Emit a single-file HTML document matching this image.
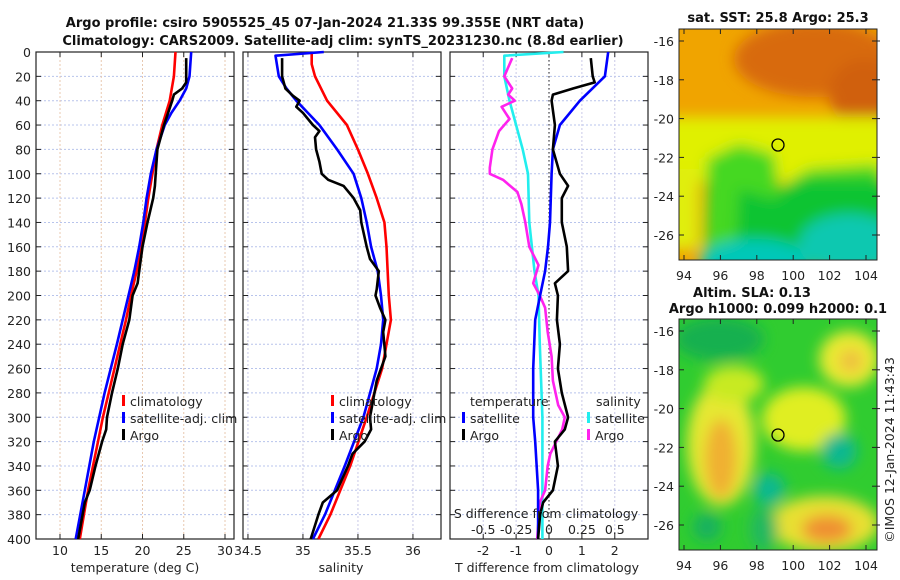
<!DOCTYPE html>
<html><head><meta charset="utf-8">
<style>
html,body{margin:0;padding:0;background:#fff;}
svg{display:block;font-family:"DejaVu Sans","Liberation Sans",sans-serif;}
text{fill:#222;}
.tk{font-size:12.5px;}
.tt{font-size:13px;font-weight:bold;fill:#111;}
</style></head>
<body>
<svg id="fig" width="900" height="580" viewBox="0 0 900 580">
<defs>
<filter id="bl" x="-10%" y="-10%" width="120%" height="120%"><feGaussianBlur stdDeviation="7"/></filter>
<clipPath id="c1"><rect x="679" y="29" width="198" height="231"/></clipPath>
<clipPath id="c2"><rect x="679" y="319" width="198" height="231"/></clipPath>
</defs>
<text class="tt" x="325" y="27" text-anchor="middle">Argo profile: csiro 5905525_45 07-Jan-2024 21.33S 99.355E (NRT data)</text>
<text class="tt" x="343" y="45" text-anchor="middle">Climatology: CARS2009. Satellite-adj clim: synTS_20231230.nc (8.8d earlier)</text>

<g>
<text class="tt" x="778" y="22" text-anchor="middle">sat. SST: 25.8 Argo: 25.3</text>
<g clip-path="url(#c1)">
<rect x="679" y="29" width="198" height="231" fill="#f0a400"/>
<g filter="url(#bl)" transform="translate(679,29)">
<ellipse cx="135" cy="30" rx="80" ry="38" fill="#d86a10"/>
<ellipse cx="185" cy="65" rx="35" ry="35" fill="#d06010"/>
<rect x="-20" y="88" width="240" height="65" fill="#e0f000"/>
<rect x="-20" y="140" width="40" height="80" fill="#e0ee10"/>
<polygon points="25,240 28,130 60,115 95,125 100,160 130,140 200,135 220,240" fill="#44d820"/>
<polygon points="55,240 60,160 95,170 120,150 210,150 220,240" fill="#10c430"/>
<ellipse cx="75" cy="232" rx="55" ry="22" fill="#00c8b8"/>
<ellipse cx="170" cy="215" rx="50" ry="30" fill="#08c8b0"/>
</g>
</g>
<rect x="679" y="29" width="198" height="231" fill="none" stroke="#222" stroke-width="1"/>
<circle cx="778" cy="145" r="6" fill="none" stroke="#000" stroke-width="1.3"/>
<g id="m1ax"></g>
</g>

<g>
<text class="tt" x="752" y="297" text-anchor="middle">Altim. SLA: 0.13</text>
<text class="tt" x="778" y="313" text-anchor="middle">Argo h1000: 0.099 h2000: 0.1</text>
<g clip-path="url(#c2)">
<rect x="679" y="319" width="198" height="231" fill="#30cc30"/>
<g filter="url(#bl)" transform="translate(679,319)">
<ellipse cx="40" cy="20" rx="45" ry="22" fill="#18b050"/>
<ellipse cx="42" cy="125" rx="34" ry="62" fill="#e6e830"/>
<ellipse cx="42" cy="140" rx="16" ry="40" fill="#f0b030"/>
<ellipse cx="125" cy="100" rx="42" ry="32" fill="#e0ee20"/>
<ellipse cx="55" cy="65" rx="30" ry="18" fill="#c8ea20"/>
<ellipse cx="170" cy="40" rx="30" ry="28" fill="#eaea30"/>
<ellipse cx="172" cy="42" rx="12" ry="12" fill="#f0c040"/>
<ellipse cx="145" cy="205" rx="55" ry="28" fill="#e8e030"/>
<ellipse cx="148" cy="210" rx="25" ry="14" fill="#f09030"/>
<ellipse cx="90" cy="170" rx="16" ry="16" fill="#10b890"/>
<ellipse cx="160" cy="132" rx="18" ry="18" fill="#10b890"/>
<ellipse cx="28" cy="208" rx="14" ry="14" fill="#18b060"/>
<ellipse cx="85" cy="210" rx="14" ry="22" fill="#20b860"/>
</g>
</g>
<rect x="679" y="319" width="198" height="231" fill="none" stroke="#222" stroke-width="1"/>
<circle cx="778" cy="435" r="6" fill="none" stroke="#000" stroke-width="1.3"/>
<g id="m2ax"></g>
</g>
<text class="tk" transform="translate(894,450) rotate(-90)" text-anchor="middle">©IMOS 12-Jan-2024 11:43:43</text>

<g id="plots"></g>
</svg>
<script>
const depthTicks = [0,20,40,60,80,100,120,140,160,180,200,220,240,260,280,300,320,340,360,380,400];
const tempTicks = [10,15,20,25,30];
const tClimD = [0,20,40,60,80,100,120,140,160,180,200,220,240,260,280,300,320,340,360,380,400];
const tClimV = [24.0,23.8,23.3,22.4,21.7,21.2,20.7,20.3,19.9,19.3,18.6,18.0,17.3,16.6,15.9,15.2,14.6,14.0,13.4,12.9,12.4];
const tSatD = [0,20,30,40,50,60,80,100,120,140,160,180,200,240,280,320,360,400];
const tSatV = [25.9,25.7,25.3,24.5,23.5,22.7,21.7,21.0,20.5,20.1,19.6,19.0,18.3,16.9,15.4,14.1,13.0,11.9];
const tArgoD = [5,25,30,35,40,50,60,80,100,110,120,140,160,180,190,200,220,240,260,280,300,310,320,340,360,370,400];
const tArgoV = [25.3,25.3,24.8,23.8,23.6,23.1,22.6,21.8,21.6,21.5,21.3,20.6,20.0,19.6,19.4,18.8,18.4,17.6,17.0,16.3,15.7,15.6,15.1,14.3,13.6,13.0,12.2];
const salTicks = [34.5,35,35.5,36];
const sClimD = [0,10,20,40,60,80,100,120,140,160,200,220,240,260,300,340,380,400];
const sClimV = [35.08,35.08,35.11,35.22,35.40,35.50,35.59,35.67,35.74,35.76,35.78,35.80,35.76,35.72,35.58,35.43,35.25,35.14];
const sSatD = [0,3,20,30,40,60,80,100,120,140,160,180,200,220,240,260,300,340,380,400];
const sSatV = [35.19,34.75,34.78,34.85,34.94,35.15,35.31,35.46,35.53,35.58,35.62,35.68,35.71,35.73,35.71,35.67,35.55,35.38,35.20,35.09];
const sArgoD = [5,20,30,36,40,45,50,60,65,70,80,90,100,105,110,120,130,140,160,170,180,195,200,210,220,230,250,270,300,310,320,330,340,360,370,380,400];
const sArgoV = [34.81,34.81,34.84,34.91,34.97,34.94,35.0,35.09,35.15,35.11,35.12,35.15,35.17,35.23,35.37,35.46,35.52,35.53,35.58,35.61,35.69,35.67,35.66,35.70,35.75,35.73,35.75,35.67,35.61,35.62,35.56,35.45,35.41,35.31,35.18,35.14,35.07];
const dtTicks = [-2,-1,0,1,2];
const dsTicks = [-0.5,-0.25,0,0.25,0.5];
const dsTickLabels = ['-0.5','-0.25','0','0.25','0.5'];
const dtSatD = [0,20,40,60,80,100,140,160,180,200,220,260,300,320,360,400];
const dtSatV = [1.8,1.7,0.94,0.33,0.12,0.08,0.03,-0.03,-0.12,-0.27,-0.42,-0.48,-0.48,-0.42,-0.33,-0.33];
const dtArgoD = [5,20,25,30,35,40,60,80,100,110,120,140,160,180,190,200,220,240,260,280,300,310,320,340,360,370,380,400];
const dtArgoV = [1.27,1.33,1.39,0.73,0.12,0.08,0.18,0.12,0.33,0.58,0.39,0.39,0.54,0.58,0.18,0.27,0.24,0.33,0.27,0.39,0.58,0.48,0.18,0.27,0.12,-0.18,-0.27,-0.33];
const dsSatD = [0,3,20,40,60,80,100,140,180,200,240,300,400];
const dsSatV = [0.11,-0.34,-0.34,-0.30,-0.25,-0.20,-0.16,-0.15,-0.11,-0.08,-0.07,-0.05,-0.05];
const dsArgoD = [5,20,30,35,40,45,55,65,80,95,100,105,115,125,140,160,175,190,200,210,230,250,270,290,300,310,330,340,360,370,400];
const dsArgoV = [-0.28,-0.34,-0.28,-0.31,-0.26,-0.36,-0.30,-0.38,-0.43,-0.45,-0.45,-0.35,-0.24,-0.21,-0.18,-0.15,-0.08,-0.12,-0.07,-0.03,-0.01,0.02,0.03,0.07,0.12,0.10,0.01,-0.01,-0.03,-0.07,-0.09];
const lonTicks = [94,96,98,100,102,104];
const latTicks = [-16,-18,-20,-22,-24,-26];

const NS='http://www.w3.org/2000/svg';
const plots=document.getElementById('plots');
function mk(tag,attrs,parent){const e=document.createElementNS(NS,tag);for(const k in attrs)e.setAttribute(k,attrs[k]);(parent||plots).appendChild(e);return e;}
const Y0=52,Y1=539;
function yD(d){return Y0+d*(Y1-Y0)/400;}

function panel(name,x0,x1,vmin,vmax,ticks,labels,vertColor){
  const g=mk('g',{});
  
  
  const xf=v=>x0+(v-vmin)/(vmax-vmin)*(x1-x0);
  depthTicks.forEach(d=>{
    const l=mk('line',{x1:x0,x2:x1,y1:yD(d),y2:yD(d),stroke:'#b8c4ec','stroke-width':1,'stroke-dasharray':'2,2'},g);
    
    
    mk('line',{x1:x0,x2:x0+5,y1:yD(d),y2:yD(d),stroke:'#222'},g);
    mk('line',{x1:x1-5,x2:x1,y1:yD(d),y2:yD(d),stroke:'#222'},g);
  });
  ticks.forEach((t,i)=>{
    const x=xf(t);
    const l=mk('line',{x1:x,x2:x,y1:Y0,y2:Y1,stroke:vertColor,'stroke-width':1,'stroke-dasharray':'2,2'},g);
    
    
    mk('line',{x1:x,x2:x,y1:Y1-5,y2:Y1,stroke:'#222'},g);
    mk('line',{x1:x,x2:x,y1:Y0,y2:Y0+5,stroke:'#222'},g);
    const tx=mk('text',{x:x,y:Y1+16,'text-anchor':'middle',class:'tk'},g);
    
    
    tx.textContent=labels[i];
  });
  mk('rect',{x:x0,y:Y0,width:x1-x0,height:Y1-Y0,fill:'none',stroke:'#222','stroke-width':1.2},g);
  return {g,xf};
}
function line(p,D,V,color,name){
  const pts=D.map((d,i)=>p.xf(V[i]).toFixed(1)+','+yD(d).toFixed(1)).join(' ');
  const pl=mk('polyline',{points:pts,fill:'none',stroke:color,'stroke-width':2.6,'stroke-linejoin':'round'},p.g);
  
  
}
function legend(g,x,y,color,label,name){
  mk('rect',{x:x,y:y-11,width:3,height:11,fill:color},g);
  const t=mk('text',{x:x+8,y:y,class:'tk'},g);
  
  
  t.textContent=label;
}

depthTicks.forEach(d=>{
  const t=mk('text',{x:31,y:yD(d)+5,'text-anchor':'end',class:'tk'});
  
  
  t.textContent=d;
});

const L1=406,L2=423,L3=440;
const pT=panel('temperature',36,234,7.09,31.09,tempTicks,tempTicks.map(String),'#e8c8b0');
line(pT,tClimD,tClimV,'#ff0000','temp-climatology-line');
line(pT,tSatD,tSatV,'#0000ff','temp-satellite-line');
line(pT,tArgoD,tArgoV,'#000000','temp-argo-line');
legend(pT.g,122,L1,'#ff0000','climatology','legend-climatology');
legend(pT.g,122,L2,'#0000ff','satellite-adj. clim','legend-satellite');
legend(pT.g,122,L3,'#000000','Argo','legend-argo');
let t=mk('text',{x:135,y:572,'text-anchor':'middle',class:'tk'});


t.textContent='temperature (deg C)';

const pS=panel('salinity',243,441,34.455,36.255,salTicks,['34.5','35','35.5','36'],'#c8c8e8');
line(pS,sClimD,sClimV,'#ff0000','sal-climatology-line');
line(pS,sSatD,sSatV,'#0000ff','sal-satellite-line');
line(pS,sArgoD,sArgoV,'#000000','sal-argo-line');
legend(pS.g,331,L1,'#ff0000','climatology','legend-climatology-2');
legend(pS.g,331,L2,'#0000ff','satellite-adj. clim','legend-satellite-2');
legend(pS.g,331,L3,'#000000','Argo','legend-argo-2');
t=mk('text',{x:341,y:572,'text-anchor':'middle',class:'tk'});


t.textContent='salinity';

const pD=panel('difference',450,648,-3.01,3.01,dtTicks,dtTicks.map(String),'#c8c8e8');
mk('line',{x1:pD.xf(0),x2:pD.xf(0),y1:Y0,y2:Y1,stroke:'#444','stroke-dasharray':'1.5,2.5','stroke-width':1.2},pD.g);
const pDs={g:pD.g,xf:v=>pD.xf(v*4)};
line(pDs,dsSatD,dsSatV,'#22eeee','sal-diff-satellite-line');
line(pDs,dsArgoD,dsArgoV,'#ff22ee','sal-diff-argo-line');
line(pD,dtSatD,dtSatV,'#0000ff','temp-diff-satellite-line');
line(pD,dtArgoD,dtArgoV,'#000000','temp-diff-argo-line');
t=mk('text',{x:470,y:L1,class:'tk'},pD.g);t.textContent='temperature';


t=mk('text',{x:596,y:L1,class:'tk'},pD.g);t.textContent='salinity';


legend(pD.g,462,L2,'#0000ff','satellite','legend-temp-satellite');
legend(pD.g,462,L3,'#000000','Argo','legend-temp-argo');
legend(pD.g,587,L2,'#22eeee','satellite','legend-sal-satellite');
legend(pD.g,587,L3,'#ff22ee','Argo','legend-sal-argo');
t=mk('text',{x:546,y:518,'text-anchor':'middle',class:'tk'},pD.g);t.textContent='S difference from climatology';


dsTicks.forEach((v,i)=>{
  const tx=mk('text',{x:pDs.xf(v),y:534,'text-anchor':'middle',class:'tk'},pD.g);
  
  
  tx.textContent=dsTickLabels[i];
});
t=mk('text',{x:547,y:572,'text-anchor':'middle',class:'tk'});


t.textContent='T difference from climatology';

function mapAxes(id,top){
  const g=document.getElementById(id);
  const xf=lon=>684+(lon-94)*18.2;
  const yf=lat=>top+12+(-16-lat)*19.4;
  lonTicks.forEach(l=>{
    mk('line',{x1:xf(l),x2:xf(l),y1:top+231,y2:top+226,stroke:'#222'},g);
    mk('line',{x1:xf(l),x2:xf(l),y1:top,y2:top+5,stroke:'#222'},g);
    const tx=mk('text',{x:xf(l),y:top+251,'text-anchor':'middle',class:'tk'},g);
    
    
    tx.textContent=l;
  });
  latTicks.forEach(l=>{
    mk('line',{x1:679,x2:684,y1:yf(l),y2:yf(l),stroke:'#222'},g);
    mk('line',{x1:872,x2:880,y1:yf(l),y2:yf(l),stroke:'#222'},g);
    const tx=mk('text',{x:674,y:yf(l)+5,'text-anchor':'end',class:'tk'},g);
    
    
    tx.textContent=l;
  });
}
mapAxes('m1ax',29);
mapAxes('m2ax',319);
</script>
</body></html>
